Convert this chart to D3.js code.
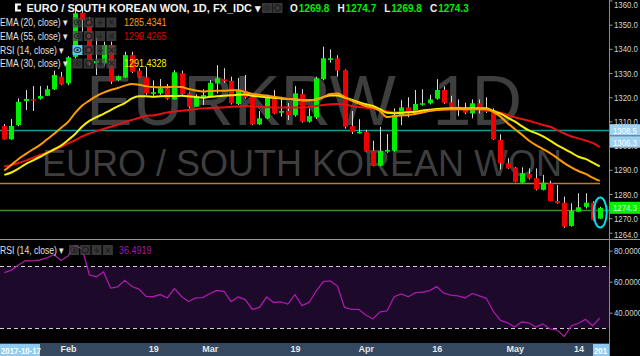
<!DOCTYPE html>
<meta charset="utf-8">
<style>
  body { margin: 0; background: #000; }
  svg { display: block; }
</style>
<body>
<svg width="640" height="356"></svg>
<script src="https://cdn.jsdelivr.net/npm/d3@7"></script>
<script>
// daily EURKRW candles, weekdays only
const firstDay = "2018-01-19", lastDay = "2018-05-17";

const open = [1308.1,1302.6,1308.5,1318.4,1319.2,1319.4,1320.6,1323.3,1328.5,1325.7,
  1336.7,1354.9,1351.2,1334.0,1334.0,1341.6,1327.1,1328.2,1337.4,1331.0,
  1328.2,1321.4,1321.6,1323.7,1319.1,1329.9,1321.6,1316.1,1320.0,1320.5,
  1325.7,1327.4,1326.8,1317.2,1322.7,1320.2,1308.8,1311.3,1320.0,1313.6,
  1314.3,1312.6,1321.3,1309.9,1311.7,1327.5,1335.4,1336.1,1331.2,1308.1,
  1305.2,1305.7,1297.9,1291.7,1297.5,1297.9,1312.4,1315.8,1313.3,1316.9,
  1317.5,1319.4,1323.0,1317.9,1316.1,1315.1,1313.3,1317.5,1315.4,1314.0,
  1302.3,1292.7,1290.9,1284.7,1288.3,1286.5,1281.7,1284.4,1277.1,1276.4,
  1266.8,1272.7,1274.7,1276.4,1269.8];
const high = [1308.9,1311.0,1319.5,1323.0,1324.6,1324.6,1324.8,1331.0,1330.5,1337.0,
  1358.0,1357.0,1353.0,1344.3,1343.0,1343.0,1329.0,1338.8,1338.8,1332.0,
  1332.6,1327.0,1327.5,1325.5,1331.2,1331.0,1322.0,1321.2,1323.3,1327.1,
  1333.3,1332.0,1328.5,1328.0,1329.2,1321.0,1314.3,1321.0,1323.0,1320.2,
  1317.6,1324.6,1323.3,1315.4,1328.5,1340.9,1339.8,1337.4,1331.5,1314.3,
  1310.9,1306.5,1302.0,1307.8,1304.8,1315.4,1318.8,1320.0,1323.0,1323.3,
  1321.0,1327.5,1324.5,1320.6,1319.1,1317.7,1319.1,1319.1,1320.0,1315.4,
  1304.7,1294.8,1291.2,1291.0,1290.6,1290.6,1287.9,1285.5,1283.7,1278.9,
  1276.2,1280.3,1280.3,1277.0,1274.7];
const low = [1302.5,1302.4,1308.0,1314.7,1314.3,1319.0,1320.5,1323.0,1325.0,1325.0,
  1336.0,1347.1,1333.0,1329.2,1333.0,1325.5,1326.8,1328.0,1330.0,1328.0,
  1321.0,1320.6,1321.0,1319.0,1319.0,1321.0,1315.5,1316.0,1316.8,1320.0,
  1321.6,1326.0,1317.0,1316.8,1319.5,1308.5,1308.5,1311.0,1313.0,1312.0,
  1310.6,1312.0,1309.5,1309.5,1311.0,1327.0,1334.3,1328.5,1307.0,1304.8,
  1305.0,1297.2,1291.5,1291.5,1297.0,1297.5,1308.5,1311.7,1313.0,1316.5,
  1317.0,1319.0,1317.3,1315.7,1312.2,1313.0,1311.3,1313.3,1313.5,1302.3,
  1290.2,1290.3,1284.9,1284.5,1286.0,1281.5,1281.5,1277.0,1276.0,1266.0,
  1266.5,1272.5,1274.0,1269.0,1269.8];
const close = [1302.6,1308.1,1318.1,1319.3,1318.8,1320.5,1323.3,1329.2,1325.3,1336.5,
  1354.7,1351.9,1334.0,1335.0,1341.6,1326.4,1328.7,1337.4,1330.5,1328.2,
  1321.6,1322.1,1323.7,1319.4,1330.3,1321.3,1316.1,1320.2,1320.9,1326.0,
  1327.8,1326.7,1317.5,1322.7,1320.0,1308.8,1311.3,1320.0,1313.3,1314.3,
  1312.6,1321.6,1309.9,1312.2,1327.8,1336.1,1336.1,1331.0,1307.8,1305.7,
  1305.7,1297.5,1291.7,1297.8,1298.2,1312.6,1315.8,1313.3,1317.2,1317.5,
  1319.1,1323.0,1317.7,1316.1,1315.1,1313.6,1317.5,1315.4,1314.0,1302.6,
  1292.7,1290.6,1285.1,1288.6,1286.5,1281.9,1284.7,1277.1,1276.2,1266.5,
  1273.0,1274.5,1276.4,1269.3,1274.3];

const ema20 = [1289.7,1292.0,1294.5,1296.5,1298.4,1300.2,1302.5,1304.8,1307.3,1309.8,
  1313.5,1316.6,1318.6,1320.5,1321.9,1323.0,1323.8,1324.8,1325.5,1325.2,
  1324.6,1324.2,1324.1,1324.2,1324.3,1324.2,1323.4,1322.8,1322.4,1322.6,
  1322.7,1322.7,1322.9,1322.9,1322.1,1321.4,1321.0,1320.7,1320.2,1319.8,
  1319.3,1319.3,1318.8,1318.8,1319.0,1320.1,1321.3,1321.5,1320.1,1318.6,
  1317.4,1316.4,1315.7,1314.3,1311.8,1312.2,1312.5,1312.7,1313.1,1313.7,
  1314.3,1314.7,1314.9,1315.0,1315.0,1315.0,1315.0,1315.0,1315.0,1313.9,
  1312.0,1309.3,1306.9,1304.6,1302.1,1300.2,1298.6,1296.9,1294.9,1292.8,
  1291.0,1289.5,1288.3,1286.8,1285.4];
const ema30 = [1287.9,1288.9,1290.5,1292.4,1293.8,1295.3,1296.9,1298.4,1300.0,1302.3,
  1304.8,1307.9,1310.2,1311.8,1313.1,1314.7,1316.2,1317.6,1319.5,1320.4,
  1320.4,1320.2,1320.4,1320.5,1320.5,1320.6,1320.4,1320.1,1319.8,1320.2,
  1320.4,1320.6,1320.8,1321.0,1321.1,1320.6,1320.3,1320.0,1319.8,1319.5,
  1319.3,1319.1,1318.8,1318.8,1319.1,1320.0,1320.7,1320.7,1319.9,1319.0,
  1317.9,1317.1,1316.4,1315.1,1313.6,1313.4,1313.6,1313.8,1314.0,1314.5,
  1314.8,1315.1,1315.3,1315.4,1315.4,1315.4,1315.4,1315.4,1315.4,1314.3,
  1313.2,1311.6,1310.0,1308.1,1306.3,1305.2,1303.8,1302.1,1300.2,1298.7,
  1297.1,1295.4,1294.5,1293.0,1291.4];
const ema55 = [1291.4,1292.0,1292.8,1293.8,1294.9,1296.1,1297.1,1298.2,1299.5,1300.9,
  1302.3,1303.8,1305.0,1306.0,1306.9,1307.8,1308.7,1309.8,1310.6,1311.4,
  1312.4,1312.5,1313.1,1313.7,1314.1,1314.4,1314.7,1315.1,1315.4,1315.6,
  1315.7,1315.8,1316.1,1316.2,1316.4,1316.2,1316.0,1315.9,1315.8,1315.8,
  1315.8,1315.8,1315.8,1316.0,1316.4,1316.8,1317.1,1317.2,1317.0,1316.4,
  1316.0,1315.7,1315.3,1314.7,1314.1,1313.7,1313.8,1313.9,1314.1,1314.3,
  1314.5,1314.7,1314.9,1315.0,1315.0,1315.0,1315.0,1315.0,1314.7,1314.3,
  1313.6,1312.7,1311.7,1311.0,1310.3,1309.4,1308.5,1307.8,1306.4,1305.0,
  1303.8,1303.0,1302.1,1301.1,1299.4];
const rsi = [65.9,67.5,70.8,73.5,73.4,74.0,75.3,77.5,73.7,76.6,
  83.4,81.1,64.3,63.2,66.3,55.9,56.7,60.9,56.9,55.2,
  50.5,50.3,51.7,49.5,55.6,50.5,47.2,49.5,49.7,52.4,
  54.3,53.7,47.2,50.1,48.5,42.1,43.4,50.1,46.6,47.0,
  45.6,51.7,44.6,46.6,54.0,60.1,60.5,57.2,43.4,42.2,
  42.2,38.5,35.9,40.6,41.1,50.3,52.1,50.3,52.9,53.2,
  54.2,56.8,52.6,51.4,50.8,49.5,52.4,50.8,49.3,40.8,
  35.0,33.5,30.8,34.0,33.5,30.8,32.7,29.5,28.8,24.6,
  31.5,33.2,35.7,31.6,36.5];

const priceTicks = [1270, 1280, 1290, 1300, 1310, 1320, 1330, 1340, 1350, 1360];
const priceBottomLabel = 1264;
const rsiTicks = [80, 60, 40];
const rsiBands = [70, 30];
const xTickDays = ["2018-02-01","2018-02-19","2018-03-01","2018-03-19","2018-04-02","2018-04-16","2018-05-01","2018-05-14"];
const levelLines = [1306.6, 1284.4, 1273.4];
const levelTags = ["1308.5", "1306.3"];
const lastInfo = { o: 1269.8, h: 1274.7, l: 1269.8, c: 1274.3 };
const rsiLast = "36.4919";
const legendRows = [
  { name: "EMA (20, close)", value: "1285.4341" },
  { name: "EMA (55, close)", value: "1299.4265" },
  { name: "RSI (14, close)", value: "" },
  { name: "EMA (30, close)", value: "1291.4328" }
];

const svg = d3.select("svg");
const W = 609, priceBottom = 239, rsiTop = 240, rsiBottom = 343, H = 356;
const SANS = "'Liberation Sans',Arial,sans-serif";
const SQ = 0.82; // horizontal squeeze to mimic the narrow UI font

const parse = d3.timeParse("%Y-%m-%d");
const days = d3.timeDay.range(parse(firstDay), d3.timeDay.offset(parse(lastDay), 1))
  .filter(d => d.getDay() !== 0 && d.getDay() !== 6);
const candles = days.map((d, i) => ({ i, date: d, o: open[i], h: high[i], l: low[i], c: close[i] }));

const x = d3.scalePoint().domain(d3.range(days.length)).range([4.3, 599.7]);
const y = d3.scaleLinear().domain([1261.4, 1360.2]).range([priceBottom, 0]);
const yR = d3.scaleLinear().domain([20.45, 86.9]).range([rsiBottom, rsiTop]);

// narrow text helper
function ntext(parent, tx, ty, str, size, fill, weight) {
  return parent.append("text")
    .attr("transform", `translate(${tx},${ty}) scale(${SQ},1)`)
    .attr("font-family", SANS).attr("font-size", size).attr("font-weight", weight || "normal")
    .attr("fill", fill).text(str);
}

const defs = svg.append("defs");
defs.append("clipPath").attr("id", "clipPrice").append("rect").attr("width", W).attr("height", priceBottom);
defs.append("clipPath").attr("id", "clipRsi").append("rect").attr("y", rsiTop).attr("width", W).attr("height", rsiBottom - rsiTop);

svg.append("rect").attr("width", 640).attr("height", H).attr("fill", "#000");

// watermark
const wm = svg.append("g").attr("clip-path", "url(#clipPrice)").attr("font-family", SANS).attr("fill", "#3e3e3e");
wm.append("text").attr("x", 86).attr("y", 125).attr("font-size", 70).text("EURKRW");
wm.append("text").attr("x", 522).attr("y", 125).attr("font-size", 70).attr("text-anchor", "end").text("1D");
wm.append("text").attr("x", 302).attr("y", 176).attr("font-size", 36).attr("text-anchor", "middle").text("EURO / SOUTH KOREAN WON");

// horizontal levels
const levelColors = ["#139b9b", "#c07a30", "#3f8a2a"];
const levelEnds = [640, 600, 609];
svg.append("g").selectAll("line").data(levelLines).join("line")
  .attr("x1", 0).attr("x2", (d, i) => levelEnds[i])
  .attr("y1", d => Math.round(y(d)) + 0.5).attr("y2", d => Math.round(y(d)) + 0.5)
  .attr("stroke", (d, i) => levelColors[i]).attr("stroke-width", 1.5);

// candles
const cg = svg.append("g").attr("clip-path", "url(#clipPrice)");
const bw = 5;
cg.selectAll("line.wick").data(candles).join("line").attr("class", "wick")
  .attr("x1", d => Math.round(x(d.i)) + 0.5).attr("x2", d => Math.round(x(d.i)) + 0.5)
  .attr("y1", d => y(d.h)).attr("y2", d => y(d.l))
  .attr("stroke", "#d8d8d8").attr("stroke-width", 1);
cg.selectAll("rect.body").data(candles).join("rect").attr("class", "body")
  .attr("x", d => Math.round(x(d.i)) + 0.5 - bw / 2).attr("width", bw)
  .attr("y", d => y(Math.max(d.o, d.c)))
  .attr("height", d => Math.max(1.5, Math.abs(y(d.o) - y(d.c))))
  .attr("fill", d => d.c >= d.o ? "#00ee00" : "#ee0000");

// EMAs
const emaLine = d3.line().x((d, i) => x(i)).y(d => y(d)).curve(d3.curveMonotoneX);
const emas = [[ema55, "#e81010"], [ema30, "#f5f000"], [ema20, "#ff9a00"]];
emas.forEach(([s, col]) => {
  cg.append("path").attr("d", emaLine(s)).attr("fill", "none").attr("stroke", col).attr("stroke-width", 2);
});

// last price marker
svg.append("ellipse").attr("cx", x(days.length - 1) + 0.5).attr("cy", 212.5).attr("rx", 6.5).attr("ry", 15)
  .attr("fill", "none").attr("stroke", "#00e0f0").attr("stroke-width", 2);

// RSI pane
const rg = svg.append("g").attr("clip-path", "url(#clipRsi)");
rg.append("rect").attr("x", 0).attr("width", W).attr("y", yR(rsiBands[0])).attr("height", yR(rsiBands[1]) - yR(rsiBands[0])).attr("fill", "#1d0a2b");
rg.selectAll("line.band").data(rsiBands).join("line").attr("class", "band")
  .attr("x1", 0).attr("x2", W).attr("y1", d => Math.round(yR(d)) + 0.5).attr("y2", d => Math.round(yR(d)) + 0.5)
  .attr("stroke", "#d6c8d6").attr("stroke-dasharray", "4,3");
rg.append("path").attr("d", d3.line().x((d, i) => x(i)).y(d => yR(d))(rsi))
  .attr("fill", "none").attr("stroke", "#a81aa8").attr("stroke-width", 1.3);

// pane separators and axis line
svg.append("line").attr("x1", 0).attr("x2", 640).attr("y1", priceBottom + 0.5).attr("y2", priceBottom + 0.5).attr("stroke", "#9a9a9a");
svg.append("line").attr("x1", W + 0.5).attr("x2", W + 0.5).attr("y1", 0).attr("y2", H).attr("stroke", "#8a8a8a");

// price and RSI axes
const pAxis = svg.append("g").attr("transform", `translate(${W + 0.5},0)`)
  .call(d3.axisRight(y).tickValues(priceTicks.concat([priceBottomLabel])).tickFormat(d3.format(".1f")).tickSize(3).tickPadding(2));
const rAxis = svg.append("g").attr("transform", `translate(${W + 0.5},0)`)
  .call(d3.axisRight(yR).tickValues(rsiTicks).tickFormat(d3.format(".4f")).tickSize(3).tickPadding(2));
[pAxis, rAxis].forEach(a => {
  a.select(".domain").remove();
  a.selectAll("line").attr("stroke", "#9a9a9a");
  a.selectAll("text").attr("fill", "#d4d4d4").attr("font-family", SANS).attr("font-size", 9.5)
    .attr("x", 4.5 / SQ).attr("transform", `scale(${SQ},1)`);
});
pAxis.selectAll(".tick").filter(d => d === priceBottomLabel).select("text").attr("dy", "0.55em");
pAxis.selectAll(".tick").filter(d => d === d3.max(priceTicks)).select("text").attr("dy", "0.75em");

// right-side price tags
const tagG = svg.append("g");
levelTags.forEach((t, k) => {
  const cy = y(levelLines[0]) + 0.5 + k * 12;
  tagG.append("rect").attr("x", W + 1).attr("y", cy - 6).attr("width", 31).attr("height", 11.5).attr("fill", "#9fd3f2");
  ntext(tagG, W + 4, cy + 3.5, t, 9.5, "#fff");
});
const cy0 = y(lastInfo.c);
tagG.append("rect").attr("x", W + 1).attr("y", cy0 - 6).attr("width", 31).attr("height", 12).attr("fill", "#00f000");
ntext(tagG, W + 4, cy0 + 3.5, d3.format(".1f")(lastInfo.c), 9.5, "#e0ffe0");

// time axis
svg.append("rect").attr("x", 0).attr("y", rsiBottom).attr("width", W).attr("height", H - rsiBottom).attr("fill", "#34485f");
const fmt = d => d.getDate() === 1 || (d.getMonth() === 3 && d.getDate() === 2) ? d3.timeFormat("%b")(d) : String(d.getDate());
const tickIdx = xTickDays.map(s => days.findIndex(d => +d === +parse(s)));
const xAxis = svg.append("g").attr("transform", `translate(0,${rsiBottom})`)
  .call(d3.axisBottom(x).tickValues(tickIdx).tickFormat(i => fmt(days[i])).tickSize(0).tickPadding(3));
xAxis.select(".domain").remove();
xAxis.selectAll("text").attr("fill", "#e6e6e6").attr("font-family", SANS).attr("font-size", 9).attr("font-weight", "bold");
const xTag = svg.append("g");
xTag.append("rect").attr("x", 0).attr("y", rsiBottom + 1).attr("width", 40).attr("height", 12).attr("fill", "#8ecbf0");
ntext(xTag, 1, rsiBottom + 10.5, "2017-10-17", 9.5, "#fff", "bold");
xTag.append("rect").attr("x", 593).attr("y", rsiBottom + 1).attr("width", 16).attr("height", 12).attr("fill", "#8ecbf0");
ntext(xTag, 594, rsiBottom + 10.5, "201", 9.5, "#fff", "bold");

// header
const hdr = svg.append("g");
hdr.append("rect").attr("x", 15).attr("y", 3.5).attr("width", 6).attr("height", 8).attr("fill", "#fff");
hdr.append("rect").attr("x", 17.5).attr("y", 5.5).attr("width", 3.5).attr("height", 4).attr("fill", "#000");
hdr.append("text").attr("x", 26.5).attr("y", 11.5).attr("font-family", SANS).attr("font-weight", "bold").attr("font-size", 11)
  .attr("fill", "#f2f2f2").text("EURO / SOUTH KOREAN WON, 1D, FX_IDC ▾");

function iconBox(g, bx, cyy, kind, active) {
  g.append("rect").attr("x", bx).attr("y", cyy - 5).attr("width", 10).attr("height", 10)
    .attr("fill", active ? "#5cc6e6" : "#4a4a4a").attr("fill-opacity", active ? 1 : 0.75);
  const cx = bx + 5;
  if (kind === "eye") {
    g.append("ellipse").attr("cx", cx).attr("cy", cyy).attr("rx", 3.5).attr("ry", 2.5).attr("fill", "none").attr("stroke", "#222").attr("stroke-width", 1);
    g.append("circle").attr("cx", cx).attr("cy", cyy).attr("r", 1.2).attr("fill", "#222");
  } else if (kind === "gear") {
    g.append("circle").attr("cx", cx).attr("cy", cyy).attr("r", 3).attr("fill", "none").attr("stroke", "#222").attr("stroke-width", 1.6);
  } else {
    g.append("text").attr("x", cx).attr("y", cyy + 3.5).attr("text-anchor", "middle").attr("font-family", SANS)
      .attr("font-size", 10).attr("font-weight", "bold").attr("fill", "#222").text(kind === "plus" ? "+" : "×");
  }
}
iconBox(hdr, 262, 8, "eye");
iconBox(hdr, 272.5, 8, "gear");

const ohlc = hdr.append("text").attr("x", 290).attr("y", 11.5).attr("font-family", SANS).attr("font-weight", "bold").attr("font-size", 10);
[["O", lastInfo.o], ["H", lastInfo.h], ["L", lastInfo.l], ["C", lastInfo.c]].forEach(([k, v], j) => {
  ohlc.append("tspan").attr("fill", "#f0f0f0").attr("dx", j ? 8 : 0).text(k);
  ohlc.append("tspan").attr("fill", "#00ee00").attr("dx", 1).text(d3.format(".1f")(v));
});

// indicator legend
const valueColors = ["#ff9a00", "#e00000", "#a81aa8", "#f5f000"];
const rowY = [22.5, 36, 50, 63.5];
const lg = svg.append("g");
legendRows.forEach((r, k) => {
  ntext(lg, 0, rowY[k] + 3.5, r.name + " ▾", 10.5, "#e0e0e0");
  ["eye", "gear", "plus", "x"].forEach((kind, j) => iconBox(lg, 72.5 + j * 11.3, rowY[k], kind, k === 2 && j === 0));
  if (r.value) ntext(lg, 124, rowY[k] + 3.5, r.value, 11, valueColors[k]);
});

// RSI legend
const rl = svg.append("g");
const rsiRowY = 250;
ntext(rl, 0, rsiRowY + 3.5, "RSI (14, close) ▾", 10.5, "#e0e0e0");
["eye", "gear", "plus", "x"].forEach((kind, j) => iconBox(rl, 69 + j * 11.3, rsiRowY, kind, false));
ntext(rl, 119, rsiRowY + 3.5, rsiLast, 11, "#a81aa8");
</script>
</body>
